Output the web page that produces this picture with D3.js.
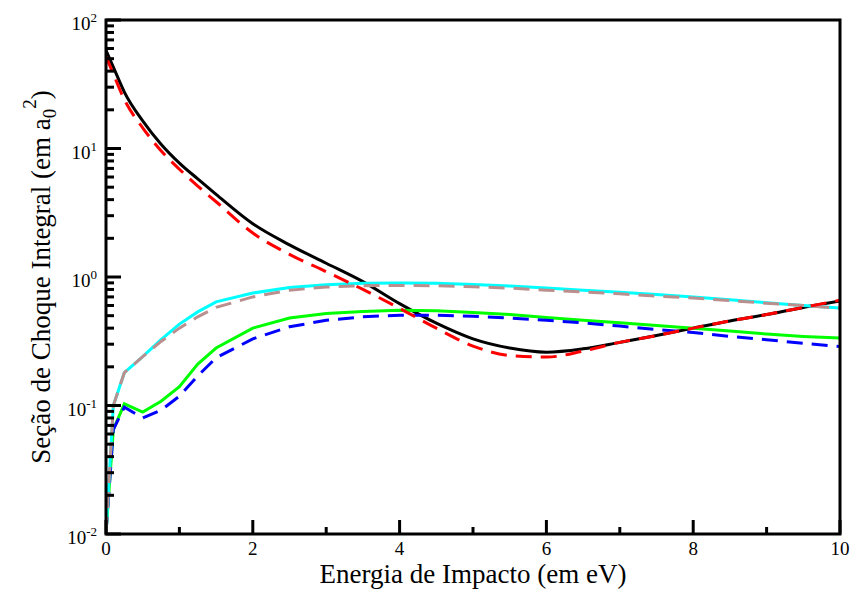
<!DOCTYPE html>
<html>
<head>
<meta charset="utf-8">
<script src="https://d3js.org/d3.v7.min.js"></script>
<style>
  body { margin: 0; background: #fff; }
  svg text { font-family: "Times New Roman", "Liberation Serif", "DejaVu Serif", Times, serif; }
</style>
</head>
<body>
<svg id="chart" width="853" height="591"></svg>
<script>
// energies (eV) shared by the curves
var energy = [0, 0.1, 0.25, 0.5, 0.75, 1, 1.25, 1.5, 2, 2.5, 3, 3.5, 4, 4.5, 5, 5.5, 6, 6.5, 7, 7.5, 8, 8.5, 9, 9.5, 10];

var blackSolid = [58, 43, 27.5, 16.4, 10.8, 7.7, 5.8, 4.4, 2.6, 1.78, 1.28, 0.92, 0.62, 0.437, 0.33, 0.28, 0.26, 0.276, 0.31, 0.35, 0.40, 0.455, 0.51, 0.58, 0.65];
var redDashed  = [52, 38, 24, 14.5, 9.6, 6.9, 5.1, 3.85, 2.2, 1.5, 1.1, 0.80, 0.57, 0.40, 0.29, 0.245, 0.238, 0.265, 0.31, 0.35, 0.40, 0.455, 0.51, 0.58, 0.66];
var cyanSolid  = [0.0102, 0.1, 0.18, 0.24, 0.325, 0.43, 0.535, 0.64, 0.75, 0.83, 0.87, 0.895, 0.9, 0.895, 0.875, 0.85, 0.82, 0.79, 0.76, 0.73, 0.70, 0.665, 0.63, 0.60, 0.575];
var brownDashed= [0.0102, 0.1, 0.18, 0.24, 0.315, 0.40, 0.49, 0.58, 0.70, 0.79, 0.835, 0.855, 0.86, 0.855, 0.84, 0.82, 0.79, 0.765, 0.74, 0.71, 0.685, 0.655, 0.625, 0.60, 0.57];
var greenSolid = [0.0102, 0.065, 0.103, 0.089, 0.108, 0.14, 0.21, 0.28, 0.40, 0.48, 0.52, 0.54, 0.55, 0.545, 0.53, 0.51, 0.485, 0.46, 0.44, 0.42, 0.40, 0.38, 0.36, 0.345, 0.335];
var blueDashed = [0.0102, 0.065, 0.097, 0.08, 0.092, 0.118, 0.17, 0.235, 0.33, 0.41, 0.46, 0.49, 0.505, 0.505, 0.495, 0.48, 0.46, 0.44, 0.415, 0.39, 0.37, 0.345, 0.325, 0.305, 0.288];

var xTicks = [0, 2, 4, 6, 8, 10];
var yExps = [-2, -1, 0, 1, 2];

var series = [
  {name: "black", values: blackSolid, color: "#000000", dash: null, smooth: true},
  {name: "green", values: greenSolid, color: "#00ff00", dash: null, smooth: false},
  {name: "blue", values: blueDashed, color: "#0000ff", dash: "16,9", smooth: false},
  {name: "cyan", values: cyanSolid, color: "#00ffff", dash: null, smooth: false},
  {name: "brown", values: brownDashed, color: "#bc8f8f", dash: "16,9", smooth: false},
  {name: "red", values: redDashed, color: "#ff0000", dash: "16,9", smooth: true}
];

var margin = {top: 20, right: 13, bottom: 57, left: 106};
var svg = d3.select("#chart");
var width = 853 - margin.left - margin.right,
    height = 591 - margin.top - margin.bottom;

var x = d3.scaleLinear().domain([0, 10]).range([0, width]);
var y = d3.scaleLog().domain([0.01, 100]).range([height, 0]);

var g = svg.append("g").attr("transform", "translate(" + margin.left + "," + margin.top + ")");

g.append("clipPath").attr("id", "clip")
  .append("rect").attr("width", width).attr("height", height);

var lineLinear = d3.line()
  .x(function(d) { return x(d[0]); })
  .y(function(d) { return y(d[1]); });
var lineSmooth = d3.line()
  .curve(d3.curveMonotoneX)
  .x(function(d) { return x(d[0]); })
  .y(function(d) { return y(d[1]); });

g.append("g").attr("clip-path", "url(#clip)")
  .selectAll("path")
  .data(series)
  .enter()
  .append("path")
    .attr("d", function(s) {
      var pts = energy.map(function(e, i) { return [e, s.values[i]]; });
      return s.smooth ? lineSmooth(pts) : lineLinear(pts);
    })
    .attr("fill", "none")
    .attr("stroke", function(s) { return s.color; })
    .attr("stroke-width", 3)
    .attr("stroke-dasharray", function(s) { return s.dash; });

// frame
g.append("rect")
  .attr("width", width).attr("height", height)
  .attr("fill", "none").attr("stroke", "#000").attr("stroke-width", 3);

// x ticks (inward), majors every 2, minors in between
var xMinor = d3.range(1, 10, 2);
g.selectAll(".xmaj").data(xTicks).enter().append("line")
  .attr("x1", d => x(d)).attr("x2", d => x(d))
  .attr("y1", height).attr("y2", height - 14)
  .attr("stroke", "#000").attr("stroke-width", 3);
g.selectAll(".xmin").data(xMinor).enter().append("line")
  .attr("x1", d => x(d)).attr("x2", d => x(d))
  .attr("y1", height).attr("y2", height - 7)
  .attr("stroke", "#000").attr("stroke-width", 3);
g.selectAll(".xlab").data(xTicks).enter().append("text")
  .attr("x", d => x(d)).attr("y", height + 21)
  .attr("text-anchor", "middle")
  .style("font-size", "19px")
  .text(d => d);

// y ticks (log)
var yMinor = [];
yExps.slice(0, -1).forEach(function(e) {
  for (var k = 2; k <= 9; k++) yMinor.push(k * Math.pow(10, e));
});
g.selectAll(".ymaj").data(yExps).enter().append("line")
  .attr("x1", 0).attr("x2", 15)
  .attr("y1", d => y(Math.pow(10, d))).attr("y2", d => y(Math.pow(10, d)))
  .attr("stroke", "#000").attr("stroke-width", 3);
g.selectAll(".ymin").data(yMinor).enter().append("line")
  .attr("x1", 0).attr("x2", 8)
  .attr("y1", d => y(d)).attr("y2", d => y(d))
  .attr("stroke", "#000").attr("stroke-width", 3);

var ylab = g.selectAll(".ylab").data(yExps).enter().append("text")
  .attr("x", -9).attr("y", d => y(Math.pow(10, d)) + 10)
  .attr("text-anchor", "end")
  .style("font-size", "19px");
ylab.append("tspan").text("10");
ylab.append("tspan").attr("dy", -8).style("font-size", "13px").text(d => d);

// axis titles
svg.append("text")
  .attr("x", margin.left + width / 2).attr("y", 583)
  .attr("text-anchor", "middle")
  .style("font-size", "27px")
  .text("Energia de Impacto (em eV)");

var yt = svg.append("text")
  .attr("transform", "translate(50," + (margin.top + height / 2) + ") rotate(-90)")
  .attr("text-anchor", "middle")
  .style("font-size", "27px");
yt.append("tspan").text("Seção de Choque Integral (em a");
yt.append("tspan").attr("dy", 6).style("font-size", "19px").text("0");
yt.append("tspan").attr("dy", -20).style("font-size", "19px").text("2");
yt.append("tspan").attr("dy", 14).text(")");
</script>
</body>
</html>
